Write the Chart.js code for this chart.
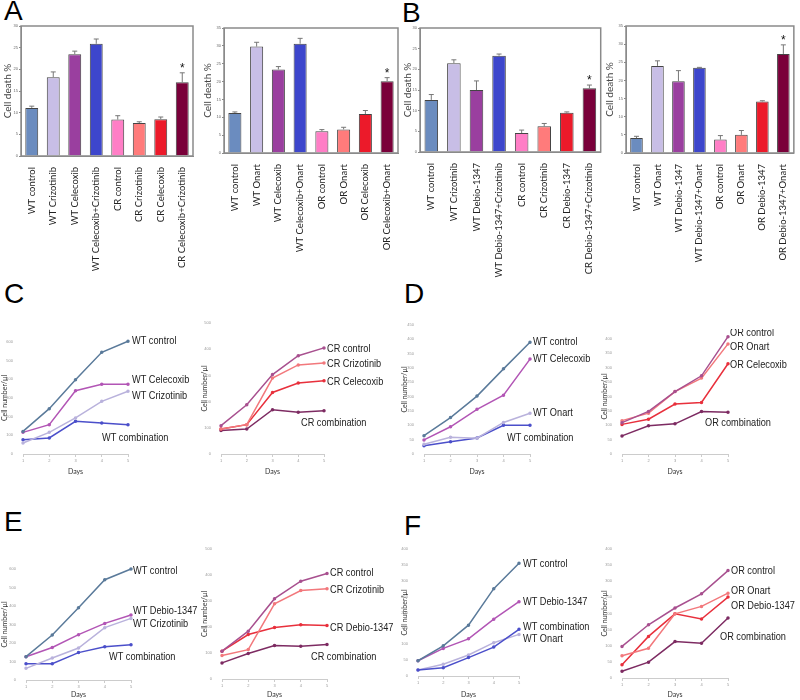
<!DOCTYPE html>
<html>
<head>
<meta charset="utf-8">
<script src="https://cdn.jsdelivr.net/npm/chart.js@4.4.1/dist/chart.umd.min.js"></script>
<style>
body { margin: 0; background: #fff; }
#wrap { position: relative; width: 800px; height: 700px; overflow: hidden; }
canvas { position: absolute; }
.tag { position: absolute; font: 28px "Liberation Sans", Arial, sans-serif; line-height: 28px; color: #000; }
</style>
</head>
<body>
<div id="wrap">
  <div class="tag" style="left:4px;top:-3px">A</div>
  <div class="tag" style="left:402px;top:-1px">B</div>
  <div class="tag" style="left:4px;top:280px">C</div>
  <div class="tag" style="left:404px;top:280px">D</div>
  <div class="tag" style="left:4px;top:508px">E</div>
  <div class="tag" style="left:404px;top:512px">F</div>
  <canvas id="aLeft"></canvas>
  <canvas id="aRight"></canvas>
  <canvas id="bLeft"></canvas>
  <canvas id="bRight"></canvas>
  <canvas id="cLeft"></canvas>
  <canvas id="cRight"></canvas>
  <canvas id="dLeft"></canvas>
  <canvas id="dRight"></canvas>
  <canvas id="eLeft"></canvas>
  <canvas id="eRight"></canvas>
  <canvas id="fLeft"></canvas>
  <canvas id="fRight"></canvas>
</div>
<script>
// ---- A / B : cell death % (bars + error) ----
const aLeftLabels = ['WT control', 'WT Crizotinib', 'WT Celecoxib', 'WT Celecoxib+Crizotinib', 'CR control', 'CR Crizotinib', 'CR Celecoxib', 'CR Celecoxib+Crizotinib'];
const aLeftValues = [11.1, 18.2, 23.5, 25.9, 8.4, 7.6, 8.5, 17.0];
const aLeftErrors = [0.4, 1.2, 0.7, 1.1, 0.9, 0.3, 0.5, 2.2];

const aRightLabels = ['WT control', 'WT Onart', 'WT Celecoxib', 'WT Celecoxib+Onart', 'OR control', 'OR Onart', 'OR Celecoxib', 'OR Celecoxib+Onart'];
const aRightValues = [11.2, 29.8, 23.4, 30.6, 6.1, 6.6, 10.9, 20.1];
const aRightErrors = [0.3, 1.2, 0.8, 1.5, 0.45, 0.6, 1.0, 1.0];

const bLeftLabels = ['WT control', 'WT Crizotinib', 'WT Debio-1347', 'WT Debio-1347+Crizotinib', 'CR control', 'CR Crizotinib', 'CR Debio-1347', 'CR Debio-1347+Crizotinib'];
const bLeftValues = [12.6, 21.5, 15.0, 23.3, 4.6, 6.2, 9.5, 15.4];
const bLeftErrors = [1.3, 0.8, 2.2, 0.4, 0.7, 0.7, 0.2, 0.8];

const bRightLabels = ['WT control', 'WT Onart', 'WT Debio-1347', 'WT Debio-1347+Onart', 'OR control', 'OR Onart', 'OR Debio-1347', 'OR Debio-1347+Onart'];
const bRightValues = [4.1, 24.0, 19.8, 23.5, 3.7, 5.0, 14.2, 27.3];
const bRightErrors = [0.5, 1.4, 2.9, 0.1, 1.1, 1.2, 0.2, 2.5];

// ---- C-F : cell number/ul over days ----
const days = ['1', '2', '3', '4', '5'];

const cWtControl = [121, 243, 398, 545, 604];
const cWtCelecoxib = [116, 157, 339, 373, 373];
const cWtCrizotinib = [59, 116, 193, 282, 336];
const cWtCombination = [77, 86, 175, 166, 157];

const cCrControl = [108, 188, 303, 375, 405];
const cCrCrizotinib = [95, 112, 290, 340, 347];
const cCrCelecoxib = [95, 112, 235, 271, 280];
const cCrCombination = [90, 95, 169, 159, 165];

const dWtControl = [64, 127, 202, 297, 390];
const dWtCelecoxib = [49, 95, 156, 205, 331];
const dWtOnart = [34, 58, 55, 110, 142];
const dWtCombination = [29, 43, 56, 100, 100];

const dOrControl = [109, 148, 217, 272, 408];
const dOrOnart = [116, 142, 217, 264, 383];
const dOrCelecoxib = [103, 121, 174, 179, 314];
const dOrCombination = [63, 98, 105, 148, 145];

const eWtControl = [126, 243, 391, 542, 600];
const eWtDebio = [126, 176, 245, 306, 351];
const eWtCrizotinib = [63, 119, 173, 283, 333];
const eWtCombination = [88, 88, 148, 180, 191];

const eCrControl = [107, 184, 309, 376, 406];
const eCrCrizotinib = [90, 113, 289, 340, 347];
const eCrDebio = [107, 171, 198, 209, 206];
const eCrCombination = [62, 98, 129, 126, 133];

const fWtControl = [48, 95, 160, 275, 355];
const fWtDebio = [48, 87, 117, 179, 234];
const fWtCombination = [19, 26, 58, 91, 147];
const fWtOnart = [19, 37, 66, 105, 131];

const fOrControl = [98, 165, 217, 261, 333];
const fOrOnart = [69, 92, 199, 222, 263];
const fOrDebio = [41, 129, 199, 183, 251];
const fOrCombination = [21, 49, 113, 108, 186];

const barColors = ['#6b8cbf', '#c8bee6', '#9a3f9f', '#3d46cc', '#ff7ec6', '#ff7b7b', '#ec1a2a', '#7a003a'];

function place(id, box) {
  const c = document.getElementById(id);
  c.width = box.W;
  c.height = box.H;
  c.style.left = box.L + 'px';
  c.style.top = box.T + 'px';
  return c;
}

const boxFrame = {
  id: 'boxFrame',
  afterDraw(chart) {
    const a = chart.chartArea, ctx = chart.ctx;
    ctx.save();
    ctx.strokeStyle = '#8a8a8a';
    ctx.lineWidth = 1.5;
    ctx.strokeRect(a.left, a.top, a.right - a.left, a.bottom - a.top);
    ctx.restore();
  }
};

const errorBars = {
  id: 'errorBars',
  afterDatasetsDraw(chart) {
    const ds = chart.data.datasets[0];
    const meta = chart.getDatasetMeta(0);
    const y = chart.scales.y, ctx = chart.ctx;
    ctx.save();
    ctx.strokeStyle = '#777';
    ctx.lineWidth = 1;
    let top = 0;
    meta.data.forEach((bar, i) => {
      top = y.getPixelForValue(ds.data[i] + ds.errors[i]);
      ctx.beginPath();
      ctx.moveTo(bar.x, bar.y);
      ctx.lineTo(bar.x, top);
      ctx.moveTo(bar.x - 2.5, top);
      ctx.lineTo(bar.x + 2.5, top);
      ctx.stroke();
    });
    // significance mark over the combination bar
    const last = meta.data[meta.data.length - 1];
    ctx.fillStyle = '#111';
    ctx.font = '12px "Liberation Sans", Arial, sans-serif';
    ctx.textAlign = 'center';
    ctx.fillText('*', last.x, top - 1);
    ctx.restore();
  }
};

// series names written next to the last point, narrow like the original
const endLabels = {
  id: 'endLabels',
  afterDatasetsDraw(chart) {
    const ctx = chart.ctx;
    chart.data.datasets.forEach((ds, i) => {
      const pts = chart.getDatasetMeta(i).data;
      const p = pts[pts.length - 1];
      ctx.save();
      ctx.translate(p.x + ds.off[0], p.y + ds.off[1]);
      ctx.scale(0.8, 1);
      ctx.font = '11.5px "Liberation Sans", Arial, sans-serif';
      ctx.fillStyle = '#222';
      ctx.textBaseline = 'middle';
      ctx.fillText(ds.label, 0, 0);
      ctx.restore();
    });
  }
};

function barChart(id, box, plot, labels, values, errors, yMax) {
  new Chart(place(id, box), {
    type: 'bar',
    data: {
      labels: labels,
      datasets: [{
        data: values,
        errors: errors,
        backgroundColor: barColors,
        borderColor: '#444',
        borderWidth: 1,
        barPercentage: 0.6,
        categoryPercentage: 1
      }]
    },
    options: {
      responsive: false,
      animation: false,
      layout: { padding: { top: plot.t - box.T, right: box.L + box.W - plot.r, left: 0, bottom: 0 } },
      plugins: { legend: { display: false }, tooltip: { enabled: false } },
      scales: {
        x: {
          grid: { display: false },
          border: { color: '#8a8a8a' },
          ticks: { autoSkip: false, minRotation: 90, maxRotation: 90, padding: 3, color: '#222', font: { family: 'Lato, sans-serif', size: 9.5 } },
          afterFit: s => { s.height = box.T + box.H - plot.b; }
        },
        y: {
          min: 0, max: yMax,
          grid: { drawOnChartArea: false, tickLength: 2, color: '#888' },
          border: { color: '#8a8a8a' },
          ticks: { stepSize: 5, padding: 1, color: '#666', font: { size: 4 } },
          title: { display: true, text: 'Cell death %', color: '#444', padding: 2, font: { family: 'Lato, sans-serif', size: 10 } },
          afterFit: s => { s.width = plot.l - box.L; }
        }
      }
    },
    plugins: [boxFrame, errorBars]
  });
}

function lineChart(id, box, plot, series, yMax, yStep) {
  new Chart(place(id, box), {
    type: 'line',
    data: {
      labels: days,
      datasets: series.map(s => ({
        label: s.label,
        data: s.data,
        off: s.off,
        borderColor: s.color,
        backgroundColor: s.color,
        borderWidth: 1.5,
        pointRadius: 1,
        tension: 0,
        clip: false
      }))
    },
    options: {
      responsive: false,
      animation: false,
      layout: { padding: { top: plot.t - box.T, right: box.L + box.W - plot.r, left: 0, bottom: 0 } },
      plugins: { legend: { display: false }, tooltip: { enabled: false } },
      scales: {
        x: {
          offset: false,
          grid: { drawOnChartArea: false, tickLength: 3, color: '#ccc' },
          border: { color: '#ccc' },
          ticks: { padding: 1, color: '#999', font: { size: 4 } },
          title: { display: true, text: 'Days', color: '#333', padding: 1, font: { family: 'Lato, sans-serif', size: 7 } },
          afterFit: s => { s.height = box.T + box.H - plot.b; }
        },
        y: {
          min: 0, max: yMax,
          grid: { display: false },
          border: { display: false },
          ticks: { stepSize: yStep, padding: 2, color: '#999', font: { size: 4 } },
          title: { display: true, text: 'Cell number/µl', color: '#333', padding: 1, font: { family: 'Lato, sans-serif', size: 7 } },
          afterFit: s => { s.width = plot.l - box.L; }
        }
      }
    },
    plugins: [endLabels]
  });
}

const wtControl = '#5a7a9a', wtDrugA = '#b255b5', wtDrugB = '#b9b2dc', wtCombo = '#4b4fca';
const rControl = '#a8508f', rDrugB = '#f2787c', rDrugA = '#e8303c', rCombo = '#7d2b62';

barChart('aLeft', { L: 0, T: 16, W: 200, H: 270 }, { l: 21, r: 193, t: 26, b: 156 }, aLeftLabels, aLeftValues, aLeftErrors, 30);
barChart('aRight', { L: 200, T: 18, W: 202, H: 268 }, { l: 224, r: 398, t: 28, b: 153 }, aRightLabels, aRightValues, aRightErrors, 35);
barChart('bLeft', { L: 400, T: 18, W: 204, H: 268 }, { l: 420, r: 601, t: 28, b: 152 }, bLeftLabels, bLeftValues, bLeftErrors, 30);
barChart('bRight', { L: 602, T: 16, W: 196, H: 270 }, { l: 626, r: 794, t: 26, b: 153 }, bRightLabels, bRightValues, bRightErrors, 35);

lineChart('cLeft', { L: 0, T: 332, W: 215, H: 145 }, { l: 23, r: 128, t: 342, b: 454 }, [
  { label: 'WT control', data: cWtControl, color: wtControl, off: [4, 0] },
  { label: 'WT Celecoxib', data: cWtCelecoxib, color: wtDrugA, off: [4, -5] },
  { label: 'WT Crizotinib', data: cWtCrizotinib, color: wtDrugB, off: [4, 5] },
  { label: 'WT combination', data: cWtCombination, color: wtCombo, off: [-26, 13] }
], 600, 100);
lineChart('cRight', { L: 200, T: 313, W: 200, H: 164 }, { l: 221, r: 324, t: 323, b: 454 }, [
  { label: 'CR control', data: cCrControl, color: rControl, off: [3, 1] },
  { label: 'CR Crizotinib', data: cCrCrizotinib, color: rDrugB, off: [3, 1] },
  { label: 'CR Celecoxib', data: cCrCelecoxib, color: rDrugA, off: [3, 1] },
  { label: 'CR combination', data: cCrCombination, color: rCombo, off: [-23, 12] }
], 500, 100);
lineChart('dLeft', { L: 400, T: 315, W: 215, H: 162 }, { l: 424, r: 530, t: 325, b: 454 }, [
  { label: 'WT control', data: dWtControl, color: wtControl, off: [3, 0] },
  { label: 'WT Celecoxib', data: dWtCelecoxib, color: wtDrugA, off: [3, 0] },
  { label: 'WT Onart', data: dWtOnart, color: wtDrugB, off: [3, 0] },
  { label: 'WT combination', data: dWtCombination, color: wtCombo, off: [-23, 12] }
], 450, 50);
lineChart('dRight', { L: 600, T: 329, W: 200, H: 148 }, { l: 622, r: 728, t: 339, b: 454 }, [
  { label: 'OR control', data: dOrControl, color: rControl, off: [2, -4] },
  { label: 'OR Onart', data: dOrOnart, color: rDrugB, off: [2, 3] },
  { label: 'OR Celecoxib', data: dOrCelecoxib, color: rDrugA, off: [2, 1] },
  { label: 'OR combination', data: dOrCombination, color: rCombo, off: [-23, 11] }
], 400, 50);
lineChart('eLeft', { L: 0, T: 559, W: 215, H: 141 }, { l: 26, r: 131, t: 569, b: 680 }, [
  { label: 'WT control', data: eWtControl, color: wtControl, off: [2, 2] },
  { label: 'WT Debio-1347', data: eWtDebio, color: wtDrugA, off: [2, -4] },
  { label: 'WT Crizotinib', data: eWtCrizotinib, color: wtDrugB, off: [2, 5] },
  { label: 'WT combination', data: eWtCombination, color: wtCombo, off: [-22, 12] }
], 600, 100);
lineChart('eRight', { L: 200, T: 539, W: 200, H: 161 }, { l: 222, r: 327, t: 549, b: 679 }, [
  { label: 'CR control', data: eCrControl, color: rControl, off: [3, -1] },
  { label: 'CR Crizotinib', data: eCrCrizotinib, color: rDrugB, off: [3, 1] },
  { label: 'CR Debio-1347', data: eCrDebio, color: rDrugA, off: [3, 2] },
  { label: 'CR combination', data: eCrCombination, color: rCombo, off: [-16, 12] }
], 500, 100);
lineChart('fLeft', { L: 400, T: 539, W: 215, H: 161 }, { l: 418, r: 519, t: 549, b: 676 }, [
  { label: 'WT control', data: fWtControl, color: wtControl, off: [4, 1] },
  { label: 'WT Debio-1347', data: fWtDebio, color: wtDrugA, off: [4, 0] },
  { label: 'WT combination', data: fWtCombination, color: wtCombo, off: [4, -2] },
  { label: 'WT Onart', data: fWtOnart, color: wtDrugB, off: [4, 4] }
], 400, 50);
lineChart('fRight', { L: 600, T: 539, W: 200, H: 161 }, { l: 622, r: 728, t: 549, b: 678 }, [
  { label: 'OR control', data: fOrControl, color: rControl, off: [3, 0] },
  { label: 'OR Onart', data: fOrOnart, color: rDrugB, off: [3, -2] },
  { label: 'OR Debio-1347', data: fOrDebio, color: rDrugA, off: [3, 9] },
  { label: 'OR combination', data: fOrCombination, color: rCombo, off: [-8, 19] }
], 400, 50);
</script>
</body>
</html>
